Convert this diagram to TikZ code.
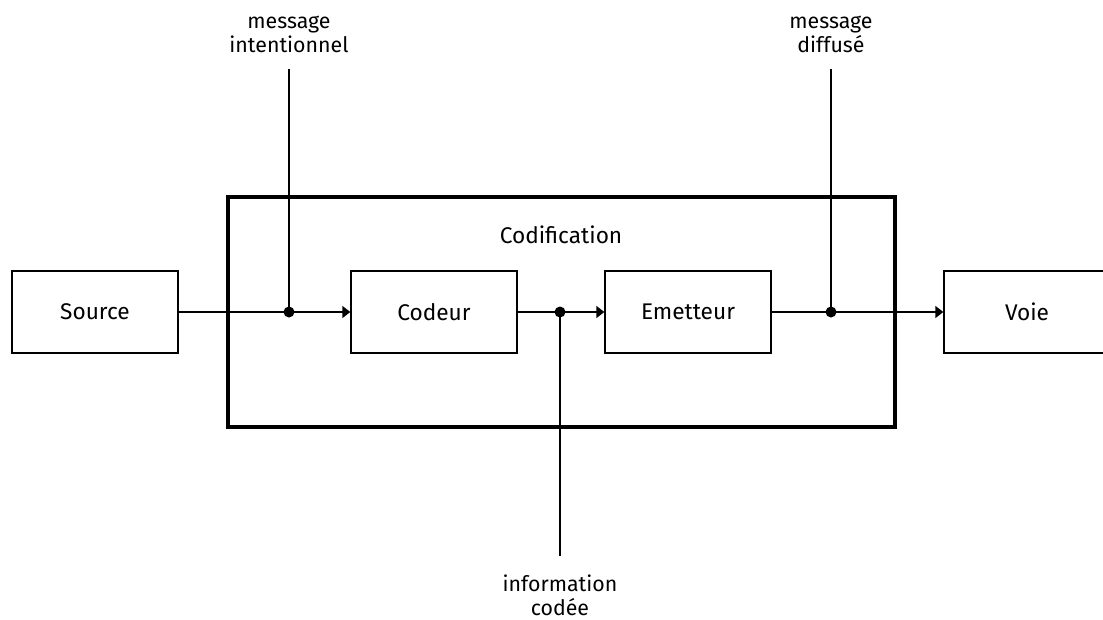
\documentclass[tikz,border=0pt]{standalone}
\usepackage{fontspec}
\setmainfont{Fira Sans}
\usetikzlibrary{arrows.meta, positioning}
\tikzset{
    bloc/.style={draw, line width=1pt, minimum width=124.5pt, minimum height=61.5pt,
        inner sep=0pt, font=\fontsize{17}{20}\selectfont},
    legende/.style={align=center, inner sep=0pt, font=\fontsize{16}{18}\selectfont},
    fleche/.style={line width=1pt, -{Triangle[length=6pt,width=9pt]}},
    fil/.style={line width=1pt}
}

\begin{document}
\begin{tikzpicture}[x=0.75pt, y=-0.75pt]

\useasboundingbox (0,0) rectangle (1103,619);
\clip (0,0) rectangle (1103,619);

% Cadre de la codification
\coordinate (C1) at (228,197);
\coordinate (C2) at (895,427);
\draw[line width=3pt] (C1) rectangle (C2);
\node[font=\fontsize{17}{20}\selectfont] (titre) at (561,235) {Codification};

% Blocs
\node[bloc] (source) at (95,312) {Source};
\node[bloc] (codeur) at (434,312) {Codeur};
\node[bloc] (emetteur) at (688,312) {Emetteur};
\node[bloc] (voie) at (1027,312) {Voie};

% Liaisons
\draw[fleche] (source) -- (codeur);
\draw[fleche] (codeur) -- (emetteur);
\draw[fleche] (emetteur) -- (voie);

% Points de prise
\coordinate (P1) at (289,312);
\coordinate (P2) at (560,312);
\coordinate (P3) at (831,312);

% Extremites des fils
\coordinate (H1) at (289,69);
\coordinate (H2) at (560,556);
\coordinate (H3) at (831,69);

\draw[fil] (H1) -- (P1);
\draw[fil] (H2) -- (P2);
\draw[fil] (H3) -- (P3);

\fill (P1) circle (5.5);
\fill (P2) circle (5.5);
\fill (P3) circle (5.5);

% Legendes
\node[legende] (msgint) at (289,34) {message\\intentionnel};
\node[legende] (msgdif) at (831,34) {message\\diffusé};
\node[legende] (infcod) at (560,595) {information\\codée};

\end{tikzpicture}
\end{document}
